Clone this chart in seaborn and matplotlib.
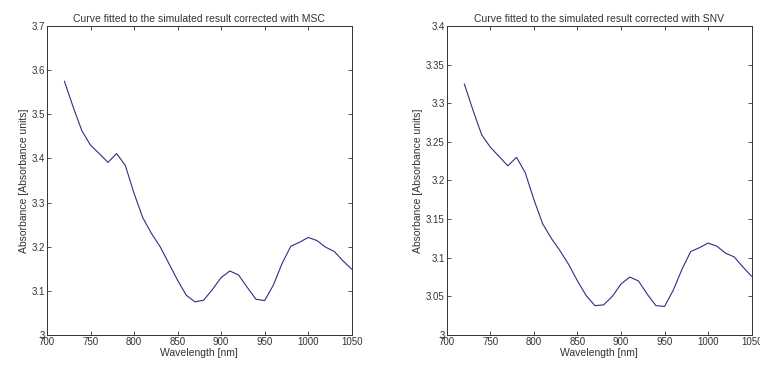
import numpy as np
import pandas as pd
import matplotlib
matplotlib.use("Agg")
import matplotlib.pyplot as plt
from matplotlib.ticker import FuncFormatter
import seaborn as sns

wavelength = [720, 730, 740, 750, 760, 770, 780, 790, 800, 810, 820, 830,
              840, 850, 860, 870, 880, 890, 900, 910, 920, 930, 940, 950,
              960, 970, 980, 990, 1000, 1010, 1020, 1030, 1040, 1050]

absorbance_msc = [3.575, 3.517, 3.463, 3.430, 3.411, 3.391, 3.411, 3.384,
                  3.321, 3.266, 3.230, 3.200, 3.162, 3.124, 3.090, 3.075,
                  3.079, 3.103, 3.130, 3.145, 3.136, 3.108, 3.081, 3.078,
                  3.113, 3.162, 3.201, 3.210, 3.221, 3.214, 3.199, 3.189,
                  3.168, 3.149]

absorbance_snv = [3.325, 3.291, 3.259, 3.243, 3.231, 3.219, 3.230, 3.210,
                  3.175, 3.144, 3.125, 3.109, 3.091, 3.070, 3.051, 3.038,
                  3.039, 3.050, 3.066, 3.075, 3.070, 3.053, 3.038, 3.037,
                  3.058, 3.085, 3.108, 3.113, 3.119, 3.115, 3.106, 3.101,
                  3.088, 3.076]

titles = ["Curve fitted to the simulated result corrected with MSC",
          "Curve fitted to the simulated result corrected with SNV"]
x_ticks = [700, 750, 800, 850, 900, 950, 1000, 1050]
msc_yticks = [3.0, 3.1, 3.2, 3.3, 3.4, 3.5, 3.6, 3.7]
snv_yticks = [3.0, 3.05, 3.1, 3.15, 3.2, 3.25, 3.3, 3.35, 3.4]

sns.set_style("ticks")
plt.rcParams["font.family"] = ["Liberation Sans", "DejaVu Sans"]

fig = plt.figure(figsize=(7.6, 3.67), dpi=100)
ax1 = fig.add_axes([0.0618, 0.0872, 0.401, 0.842])
ax2 = fig.add_axes([0.588, 0.0872, 0.401, 0.842])

line_color = "#2e2e85"
fmt = FuncFormatter(lambda v, p: f"{v:g}")

panels = [
    (ax1, absorbance_msc, msc_yticks, titles[0]),
    (ax2, absorbance_snv, snv_yticks, titles[1]),
]

for ax, values, yticks, title in panels:
    df = pd.DataFrame({"Wavelength": wavelength, "Absorbance": values})
    sns.lineplot(data=df, x="Wavelength", y="Absorbance", ax=ax,
                 color=line_color, linewidth=0.8)
    ax.set_xlim(700, 1050)
    ax.set_ylim(yticks[0], yticks[-1])
    ax.set_xticks(x_ticks)
    ax.set_yticks(yticks)
    ax.xaxis.set_major_formatter(fmt)
    ax.yaxis.set_major_formatter(fmt)
    ax.tick_params(direction="in", top=True, right=True, length=3,
                   width=0.6, labelsize=7, colors="#333333", pad=1.5)
    for s in ax.spines.values():
        s.set_visible(True)
        s.set_linewidth(0.7)
        s.set_color("#333333")
    ax.set_xlabel("Wavelength [nm]", fontsize=7.5, labelpad=1, color="#333333")
    ax.set_ylabel("Absorbance [Absorbance units]", fontsize=7.5, labelpad=2,
                  color="#333333")
    ax.set_title(title, fontsize=7.5, pad=3, color="#333333")

fig.savefig("out.png", dpi=100)
